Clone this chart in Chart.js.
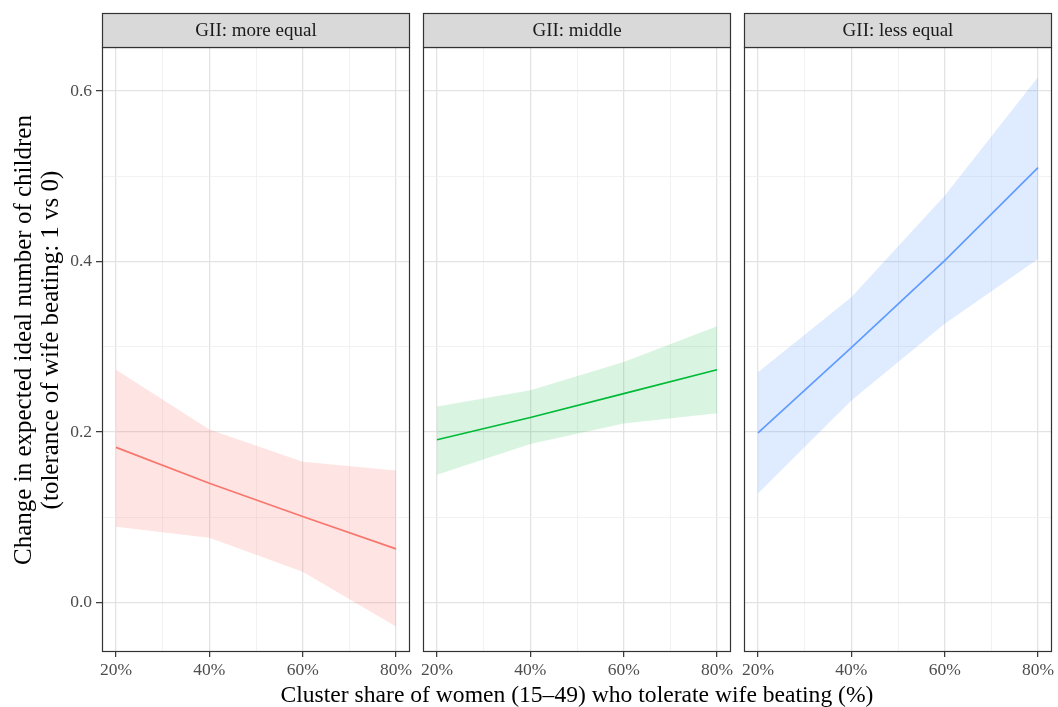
<!DOCTYPE html>
<html>
<head>
<meta charset="utf-8">
<script src="https://cdn.jsdelivr.net/npm/chart.js@4.4.1/dist/chart.umd.min.js"></script>
<style>
  html, body { margin: 0; padding: 0; background: #fff; }
  #wrap { position: relative; width: 1058px; height: 707px; overflow: hidden; }
  canvas { position: absolute; top: 0; }
</style>
</head>
<body>
<div id="wrap">
  <canvas id="p1" width="440" height="707" style="left:0px"></canvas>
  <canvas id="p2" width="1058" height="707" style="left:0px"></canvas>
  <canvas id="p3" width="344" height="707" style="left:714px"></canvas>
</div>
<script>
// ---- data ----
var xPct = [20, 40, 60, 80];
var xTicks = [20, 30, 40, 50, 60, 70, 80];
var yTicks = [0, 0.1, 0.2, 0.3, 0.4, 0.5, 0.6];
var panelTitles = ['GII: more equal', 'GII: middle', 'GII: less equal'];
var xTitle = 'Cluster share of women (15\u201349) who tolerate wife beating (%)';
var yTitle = ['Change in expected ideal number of children', '(tolerance of wife beating: 1 vs 0)'];

var fitMore = [0.182, 0.140, 0.101, 0.063];
var loMore  = [0.089, 0.076, 0.036, -0.028];
var hiMore  = [0.273, 0.203, 0.165, 0.155];

var fitMid = [0.191, 0.217, 0.245, 0.273];
var loMid  = [0.150, 0.186, 0.210, 0.222];
var hiMid  = [0.230, 0.249, 0.282, 0.324];

var fitLess = [0.199, 0.299, 0.401, 0.510];
var loLess  = [0.128, 0.237, 0.327, 0.403];
var hiLess  = [0.270, 0.358, 0.477, 0.616];

var lineColors = ['#F8766D', '#00BA38', '#619CFF'];
var bandColors = ['rgba(248,118,109,0.2)', 'rgba(0,186,56,0.15)', 'rgba(97,156,255,0.2)'];

var FONT = '"Liberation Serif", "DejaVu Serif", serif';
var INK = { border: '#333333', strip: '#D9D9D9', tick: '#4D4D4D', major: '#E3E3E3', minor: '#EFEFEF' };

function pts(ys) {
  return xPct.map(function (x, i) { return { x: x, y: ys[i] }; });
}

// strip + panel border (+ shared axis titles on the panels that carry them)
var facetFrame = {
  id: 'facetFrame',
  afterDraw: function (chart) {
    var a = chart.chartArea, ctx = chart.ctx;
    ctx.save();
    ctx.lineWidth = 1.2;
    ctx.strokeStyle = INK.border;
    ctx.strokeRect(a.left + 0.5, a.top + 0.5, a.right - a.left - 1, a.bottom - a.top - 1);
    ctx.fillStyle = INK.strip;
    ctx.fillRect(a.left, 13, a.right - a.left, a.top - 13);
    ctx.strokeRect(a.left + 0.5, 13.5, a.right - a.left - 1, a.top - 13);
    ctx.fillStyle = '#1A1A1A';
    ctx.font = '19px ' + FONT;
    ctx.textAlign = 'center';
    ctx.textBaseline = 'middle';
    ctx.fillText(chart.$title, (a.left + a.right) / 2, (13 + a.top) / 2 + 1);
    ctx.fillStyle = '#000';
    if (chart.$xTitle) {
      ctx.font = '23.6px ' + FONT;
      ctx.textBaseline = 'alphabetic';
      ctx.fillText(chart.$xTitle, (a.left + a.right) / 2, 702);
    }
    if (chart.$yTitle) {
      ctx.font = '25px ' + FONT;
      ctx.textBaseline = 'middle';
      ctx.translate(24, 340);
      ctx.rotate(-Math.PI / 2);
      chart.$yTitle.forEach(function (line, i) { ctx.fillText(line, 0, i * 27); });
    }
    ctx.restore();
  }
};

function panel(id, idx, fit, lo, hi, o) {
  var isMajorX = function (v) { return v % 20 === 0; };
  var isMajorY = function (v) { return Math.round(v * 10) % 2 === 0; };
  var chart = new Chart(document.getElementById(id).getContext('2d'), {
    type: 'line',
    data: {
      datasets: [
        { data: pts(lo), borderWidth: 0, pointRadius: 0, fill: false, borderColor: 'transparent' },
        { data: pts(hi), borderWidth: 0, pointRadius: 0, fill: '-1', borderColor: 'transparent',
          backgroundColor: bandColors[idx] },
        { data: pts(fit), borderWidth: 1.7, pointRadius: 0, fill: false, borderColor: lineColors[idx] }
      ]
    },
    options: {
      responsive: false,
      animation: false,
      layout: { padding: o.pad },
      plugins: { legend: { display: false }, tooltip: { enabled: false } },
      elements: { line: { tension: 0 } },
      scales: {
        x: {
          type: 'linear', min: 17, max: 83,
          afterBuildTicks: function (s) { s.ticks = xTicks.map(function (v) { return { value: v }; }); },
          afterFit: function (s) { s.height = 55; s.paddingLeft = 0; s.paddingRight = 0; },
          border: { display: false },
          grid: {
            color: function (c) { return isMajorX(c.tick.value) ? INK.major : INK.minor; },
            lineWidth: function (c) { return isMajorX(c.tick.value) ? 1.3 : 0.8; },
            tickColor: function (c) { return isMajorX(c.tick.value) ? INK.border : 'transparent'; },
            tickLength: 5, tickWidth: 1.2
          },
          ticks: {
            color: INK.tick, font: { family: FONT, size: 17.5 }, padding: 3, maxRotation: 0,
            autoSkip: false,
            callback: function (v) { return isMajorX(v) ? v + '%' : ''; }
          }
        },
        y: {
          min: -0.058, max: 0.6516,
          afterBuildTicks: function (s) { s.ticks = yTicks.map(function (v) { return { value: v }; }); },
          afterFit: function (s) { s.width = o.yWidth; s.paddingTop = 0; s.paddingBottom = 0; },
          border: { display: false },
          grid: {
            color: function (c) { return isMajorY(c.tick.value) ? INK.major : INK.minor; },
            lineWidth: function (c) { return isMajorY(c.tick.value) ? 1.3 : 0.8; },
            tickColor: function (c) { return isMajorY(c.tick.value) ? INK.border : 'transparent'; },
            drawTicks: !!o.yTitle, tickLength: 6, tickWidth: 1.2
          },
          ticks: {
            display: !!o.yTitle, color: INK.tick, font: { family: FONT, size: 17.5 }, padding: 4,
            autoSkip: false,
            callback: function (v) { return isMajorY(v) ? v.toFixed(1) : ''; }
          }
        }
      }
    },
    plugins: [facetFrame]
  });
  chart.$title = panelTitles[idx];
  chart.$xTitle = o.xTitle;
  chart.$yTitle = o.yTitle;
  chart.draw();
  return chart;
}

panel('p1', 0, fitMore, loMore, hiMore, {
  pad: { left: 0, top: 47, right: 30, bottom: 0 }, yWidth: 102, yTitle: yTitle
});
panel('p2', 1, fitMid, loMid, hiMid, {
  pad: { left: 423, top: 47, right: 327, bottom: 0 }, yWidth: 0, xTitle: xTitle
});
panel('p3', 2, fitLess, loLess, hiLess, {
  pad: { left: 30, top: 47, right: 6, bottom: 0 }, yWidth: 0
});
</script>
</body>
</html>
